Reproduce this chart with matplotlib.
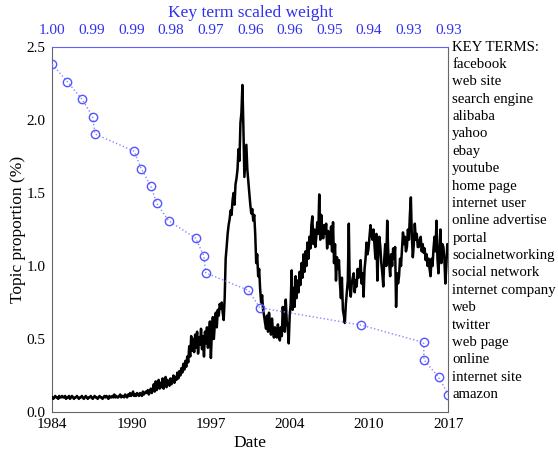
import numpy as np
import matplotlib
matplotlib.use("Agg")
import matplotlib.pyplot as plt

plt.rcParams['font.family'] = ['Liberation Serif', 'DejaVu Serif']

# Monthly topic proportion (%) from Jan 1984
proportion = [
    # 1984
    0.10,0.09,0.10,0.11,0.10,0.10,0.09,0.11,0.10,0.10,0.11,0.10,
    # 1985
    0.10,0.11,0.09,0.10,0.10,0.11,0.09,0.10,0.11,0.10,0.09,0.10,
    # 1986
    0.10,0.11,0.10,0.09,0.10,0.10,0.11,0.10,0.09,0.10,0.11,0.10,
    # 1987
    0.09,0.10,0.10,0.11,0.10,0.09,0.10,0.11,0.10,0.10,0.09,0.10,
    # 1988
    0.11,0.10,0.10,0.09,0.10,0.11,0.10,0.11,0.10,0.09,0.11,0.10,
    # 1989
    0.10,0.11,0.10,0.12,0.10,0.11,0.10,0.10,0.11,0.12,0.10,0.11,
    # 1990
    0.11,0.10,0.12,0.11,0.10,0.12,0.11,0.13,0.11,0.12,0.14,0.11,
    # 1991
    0.12,0.11,0.13,0.12,0.11,0.13,0.12,0.11,0.14,0.12,0.13,0.14,
    # 1992
    0.13,0.15,0.12,0.14,0.16,0.13,0.15,0.19,0.14,0.21,0.15,0.18,
    # 1993
    0.22,0.16,0.20,0.17,0.23,0.16,0.19,0.24,0.17,0.22,0.20,0.18,
    # 1994
    0.23,0.19,0.21,0.25,0.20,0.24,0.22,0.27,0.23,0.28,0.25,0.30,
    # 1995
    0.27,0.33,0.29,0.35,0.31,0.38,0.34,0.45,0.38,0.52,0.42,0.50,
    # 1996
    0.41,0.53,0.44,0.55,0.40,0.51,0.46,0.57,0.43,0.52,0.38,0.55,
    # 1997
    0.47,0.58,0.44,0.52,0.62,0.37,0.55,0.65,0.50,0.60,0.68,0.58,
    # 1998
    0.70,0.66,0.74,0.71,0.75,0.68,0.63,0.78,1.05,1.13,1.22,1.28,
    # 1999
    1.32,1.38,1.35,1.45,1.50,1.42,1.56,1.60,1.66,1.80,1.72,1.98,
    # 2000
    2.05,2.24,1.95,1.61,1.72,1.83,1.66,1.58,1.50,1.42,1.36,1.39,
    # 2001
    1.31,1.35,1.22,1.02,1.08,0.93,0.98,0.84,0.75,0.80,0.70,0.66,
    # 2002
    0.61,0.57,0.66,0.55,0.68,0.60,0.53,0.64,0.56,0.51,0.58,0.52,
    # 2003
    0.51,0.60,0.54,0.49,0.58,0.52,0.72,0.60,0.55,0.77,0.62,0.58,
    # 2004
    0.47,0.66,0.74,0.97,0.70,0.85,0.72,0.93,0.78,0.90,0.82,0.96,
    # 2005
    0.87,1.02,0.92,1.08,0.96,1.10,1.00,1.16,1.05,1.20,1.12,1.28,
    # 2006
    1.34,1.15,1.25,1.13,1.20,1.30,1.22,1.49,1.18,1.35,1.25,1.19,
    # 2007
    1.28,1.22,1.29,1.12,1.24,1.20,1.15,1.27,1.10,1.30,1.02,1.15,
    # 2008
    0.90,1.06,0.98,1.04,0.88,0.78,0.92,0.70,0.66,0.61,0.74,0.82,
    # 2009
    0.90,1.29,0.85,0.79,0.88,0.92,0.95,0.82,0.90,0.86,0.98,0.92,
    # 2010
    0.95,1.04,0.88,0.95,0.79,0.98,1.05,1.16,1.08,1.12,1.20,1.28,
    # 2011
    1.22,1.18,1.25,1.15,1.05,1.22,0.90,1.10,1.20,1.13,1.02,0.95,
    # 2012
    0.86,1.05,1.15,1.00,1.31,1.10,1.02,0.93,1.08,1.00,1.12,1.05,
    # 2013
    1.13,0.72,0.95,0.88,0.93,1.05,1.00,1.12,1.23,1.15,1.20,1.10,
    # 2014
    1.13,1.25,1.18,1.35,1.47,1.20,1.06,1.15,1.29,1.18,1.22,1.13,
    # 2015
    1.13,1.18,1.20,1.10,1.15,1.09,1.12,1.04,1.08,1.00,1.05,0.98,
    # 2016
    0.93,1.05,1.00,1.12,1.20,1.10,1.31,1.05,0.95,1.10,1.25,1.02,
    # 2017
    1.15,1.13,1.05,0.88,1.00,1.15,1.12,
]

key_terms = ["facebook", "web site", "search engine", "alibaba", "yahoo", "ebay",
             "youtube", "home page", "internet user", "online advertise", "portal",
             "socialnetworking", "social network", "internet company", "web",
             "twitter", "web page", "online", "internet site", "amazon"]
key_weights = [1.000, 0.9972, 0.9945, 0.9925, 0.9921, 0.9848, 0.9835, 0.9817,
               0.9806, 0.9784, 0.9734, 0.9719, 0.9715, 0.9636, 0.9615, 0.9427,
               0.9311, 0.9310, 0.9283, 0.9265]

date_ticks = [1984, 1990, 1997, 2004, 2010, 2017]

start_year = 1984.0
end_year = 2017.5
dates = start_year + np.arange(len(proportion)) / 12.0

fig = plt.figure(figsize=(5.58, 4.55), dpi=100)
ax = fig.add_axes([0.0937, 0.0945, 0.8034 - 0.0937, 0.8967 - 0.0945])

ax.plot(dates, proportion, color='black', lw=1.8, zorder=3)
ax.set_xlim(start_year, end_year)
ax.set_ylim(0, 2.5)
ax.set_xticks(np.linspace(start_year, end_year, len(date_ticks)))
ax.set_xticklabels([str(t) for t in date_ticks])
ax.set_yticks([0, 0.5, 1.0, 1.5, 2.0, 2.5])
ax.set_yticklabels(["0.0", "0.5", "1.0", "1.5", "2.0", "2.5"])
ax.tick_params(axis='x', length=0, labelsize=11, pad=4)
ax.tick_params(axis='y', length=0, labelsize=11, pad=5)
ax.set_xlabel("Date", fontsize=12.5, labelpad=3)
ax.set_ylabel("Topic proportion (%)", fontsize=12.5, labelpad=0.5)
for s in ['left', 'bottom', 'right']:
    ax.spines[s].set_color('#666666')
ax.spines['top'].set_visible(False)

blue = '#3030f0'
ax2 = ax.twiny()
n = len(key_terms)
ypos = [2.5 * (n - i) / (n + 1) for i in range(n)]
ax2.plot(key_weights, ypos, linestyle=':', color='#8888ff', lw=1.0,
         marker='o', markersize=6, markerfacecolor='none',
         markeredgecolor='#5555ff', markeredgewidth=1.0, zorder=2)
ax2.set_xlim(key_weights[0], key_weights[-1])
wt = np.linspace(key_weights[0], key_weights[-1], 11)
ax2.set_xticks(wt)
ax2.set_xticklabels(["%.2f" % w for w in wt], color=blue)
ax2.tick_params(length=0, labelsize=11, pad=7)
ax2.set_xlabel("Key term scaled weight", fontsize=12.5, color=blue, labelpad=5)
ax2.spines['top'].set_color('#6060ff')
for s in ['left', 'bottom', 'right']:
    ax2.spines[s].set_visible(False)

ax.text(1.01, 2.5, "KEY TERMS:", transform=ax.get_yaxis_transform(),
        fontsize=10.7, va='center', ha='left')
for term, y in zip(key_terms, ypos):
    ax.text(1.01, y, term, transform=ax.get_yaxis_transform(),
            fontsize=10.7, va='center', ha='left')

fig.savefig("out.png", dpi=100)
